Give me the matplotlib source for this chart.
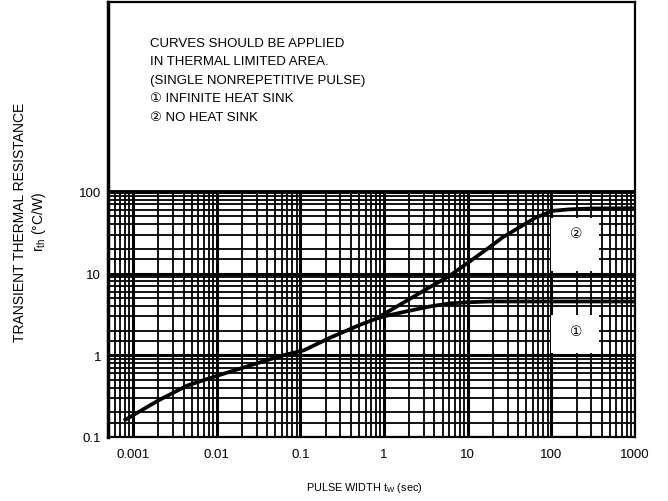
import matplotlib
matplotlib.use('Agg')
import matplotlib.pyplot as plt
from matplotlib.patches import Rectangle
from matplotlib.ticker import FixedLocator, FixedFormatter, LogLocator, NullFormatter

plt.rcParams['font.family'] = ['Liberation Sans', 'DejaVu Sans']

# pulse width (sec) / transient thermal resistance (degC/W)
# part shared by both curves
common_t = [0.00077, 0.001, 0.002, 0.0044, 0.01, 0.033, 0.06, 0.11, 0.22, 0.5, 0.8]
common_r = [0.158, 0.185, 0.28, 0.425, 0.56, 0.82, 0.99, 1.15, 1.62, 2.33, 2.8]

# (1) infinite heat sink
inf_t = [0.8, 1.0, 2.0, 3.5, 6.0, 10, 18, 50, 200, 1000]
inf_r = [2.8, 3.0, 3.5, 3.95, 4.3, 4.45, 4.55, 4.55, 4.55, 4.55]

# (2) no heat sink
no_t = [0.8, 1.0, 2.0, 3.5, 6.0, 10, 18, 26, 65, 104, 164, 300, 1000]
no_r = [2.8, 3.2, 4.85, 6.8, 9.3, 13.5, 20.8, 27.6, 48.4, 58.5, 61, 62.5, 63]

x_ticks = [0.001, 0.01, 0.1, 1, 10, 100, 1000]
x_labels = ['0.001', '0.01', '0.1', '1', '10', '100', '1000']
y_ticks = [0.1, 1, 10, 100]
y_labels = ['0.1', '1', '10', '100']

note = ('CURVES SHOULD BE APPLIED\n'
        'IN THERMAL LIMITED AREA.\n'
        '(SINGLE NONREPETITIVE PULSE)\n'
        '\u2460 INFINITE HEAT SINK\n'
        '\u2461 NO HEAT SINK')


def main():
    fig = plt.figure(figsize=(6.68, 5.02), dpi=100)
    ax = fig.add_axes([108 / 668, 1 - 438 / 502, 527 / 668, 435 / 502])
    ax.set_xscale('log')
    ax.set_yscale('log')
    ax.set_xlim(0.0005, 1000)
    ax.set_ylim(0.1, 21000)

    # log paper grid
    ax.set_axisbelow(True)
    ax.xaxis.set_major_locator(FixedLocator(x_ticks))
    ax.xaxis.set_major_formatter(FixedFormatter(x_labels))
    ax.yaxis.set_major_locator(FixedLocator(y_ticks))
    ax.yaxis.set_major_formatter(FixedFormatter(y_labels))
    ax.xaxis.set_minor_locator(LogLocator(base=10, subs=[2, 3, 4, 5, 6, 7, 8, 9], numticks=20))
    ax.yaxis.set_minor_locator(LogLocator(base=10, subs=[1.5, 2, 3, 4, 5, 6, 7, 8, 9], numticks=20))
    ax.xaxis.set_minor_formatter(NullFormatter())
    ax.yaxis.set_minor_formatter(NullFormatter())
    ax.grid(which='major', color='black', lw=2.2)
    ax.grid(which='minor', color='black', lw=1.3)
    ax.tick_params(which='both', length=0, labelsize=9.5)
    ax.tick_params(axis='x', pad=8)
    ax.tick_params(axis='y', pad=5)

    # blank note area above 100
    ax.axhspan(100, 21000, color='white', zorder=1)
    ax.axhline(100, color='black', lw=2.8, zorder=2)

    # label boxes
    ax.add_patch(Rectangle((100, 10.8), 276, 37.2, facecolor='white', edgecolor='none', zorder=2))
    ax.add_patch(Rectangle((100, 1.07), 276, 2.05, facecolor='white', edgecolor='none', zorder=2))
    ax.text(198, 31.5, '\u2461', ha='center', va='center', fontsize=10, zorder=3)
    ax.text(198, 1.98, '\u2460', ha='center', va='center', fontsize=10, zorder=3)

    ax.plot(common_t, common_r, color='black', lw=2.7, zorder=4, solid_capstyle='butt')
    ax.plot(inf_t, inf_r, color='black', lw=2.7, zorder=4, solid_capstyle='butt')
    ax.plot(no_t, no_r, color='black', lw=2.7, zorder=4, solid_capstyle='butt')

    for side in ['top', 'right', 'bottom']:
        ax.spines[side].set_linewidth(1.6)
    ax.spines['left'].set_linewidth(2.5)

    fig.text(150 / 668, 1 - 38 / 502, note, fontsize=9.5, va='top', ha='left',
             linespacing=1.72)

    fig.text(364 / 668, 1 - 488 / 502, 'PULSE WIDTH t$_\\mathregular{W}$ (sec)',
             ha='center', va='center', fontsize=7.8)
    fig.text(20 / 668, 1 - 222 / 502, 'TRANSIENT THERMAL RESISTANCE',
             ha='center', va='center', rotation=90, fontsize=10)
    fig.text(39 / 668, 1 - 222 / 502, 'r$_\\mathregular{th}$ (\u00b0C/W)',
             ha='center', va='center', rotation=90, fontsize=10)

    fig.savefig('out.png', dpi=100)


if __name__ == "__main__":
    main()
